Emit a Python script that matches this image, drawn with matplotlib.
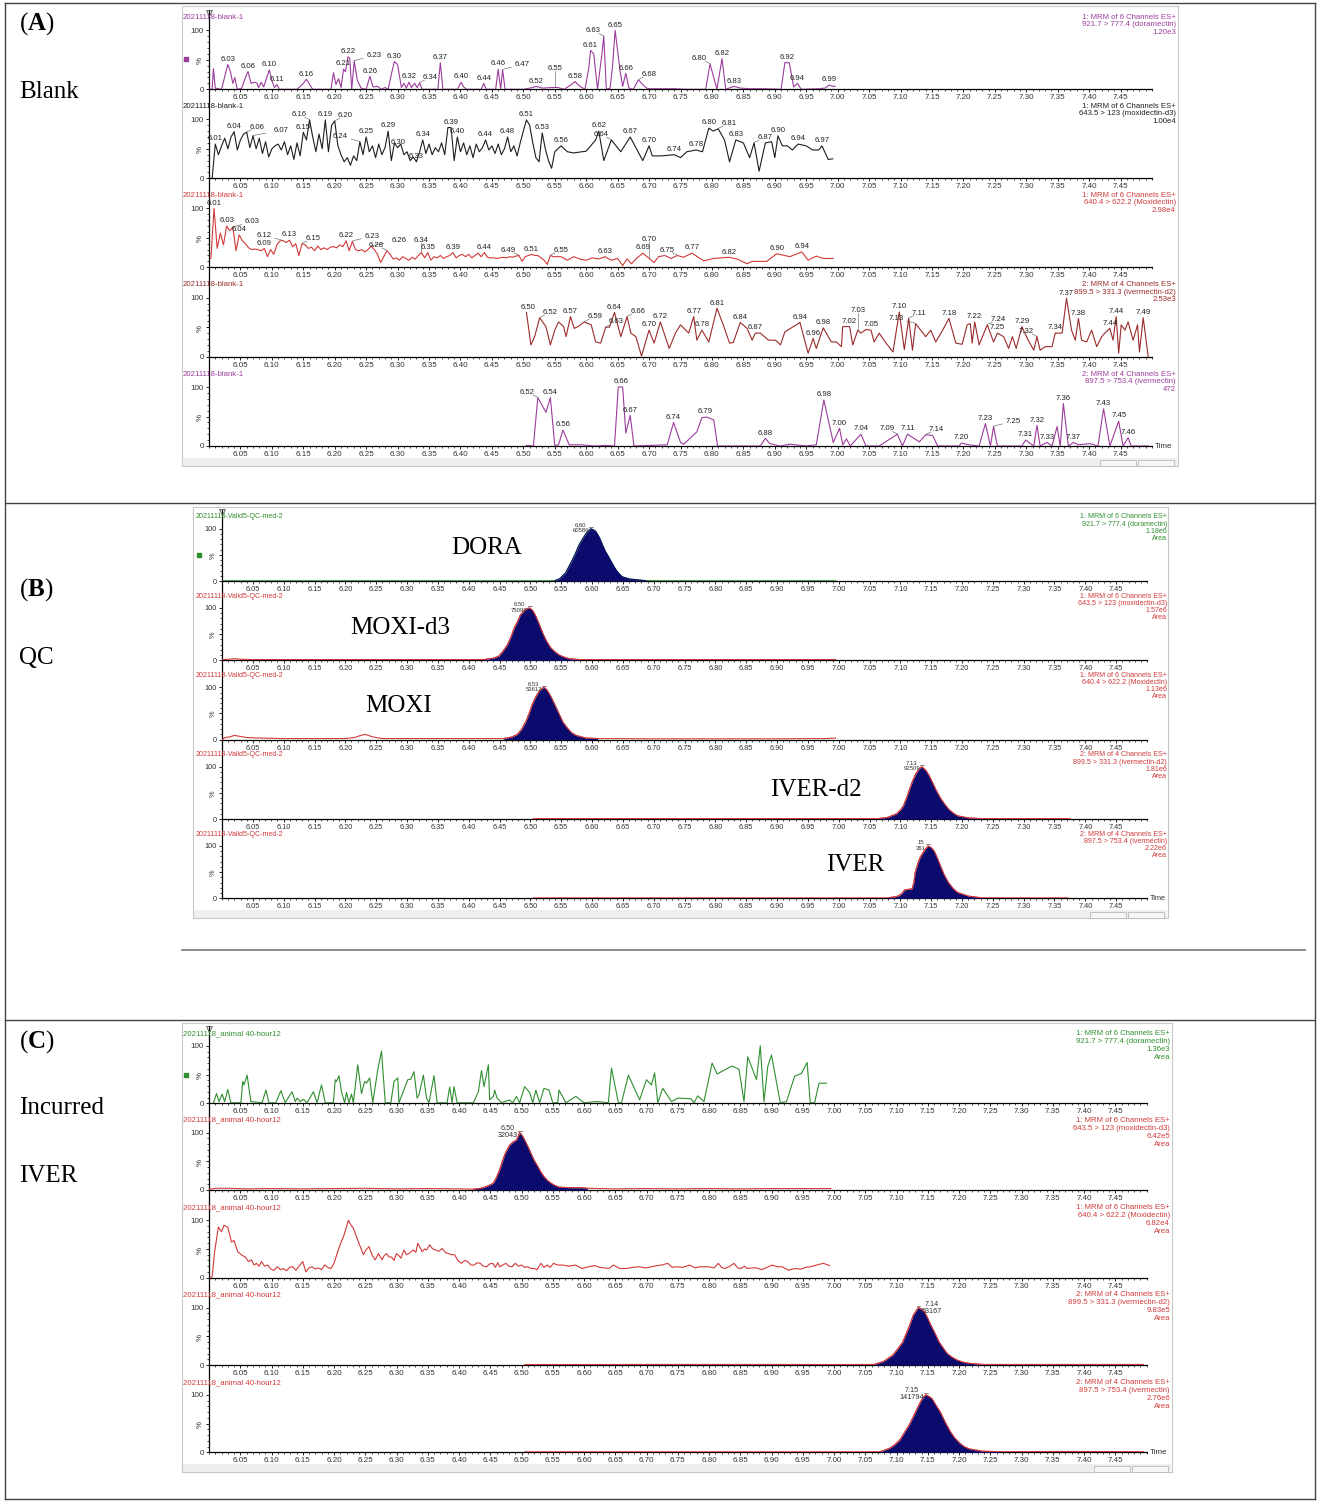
import numpy as np
import matplotlib.pyplot as plt
from matplotlib.ticker import MultipleLocator, FixedLocator, FormatStrFormatter
from matplotlib.patches import Rectangle
from matplotlib.lines import Line2D

plt.rcParams['font.family'] = ['Liberation Sans', 'DejaVu Sans']
plt.rcParams['mathtext.fontset'] = 'custom'
plt.rcParams['mathtext.rm'] = 'Liberation Serif'
plt.rcParams['mathtext.bf'] = 'Liberation Serif:bold'

# ---------------- data (time in min, intensity in %) ----------------
# (A) blank
a1 = np.array([(6.000, 0), (6.005, 0), (6.007, 35), (6.010, 2), (6.020, 0), (6.027, 30), (6.030, 42), (6.034, 30),
               (6.038, 10), (6.041, 20), (6.045, 0), (6.052, 2), (6.058, 20), (6.062, 30), (6.067, 10), (6.072, 12),
               (6.076, 11), (6.079, 3), (6.083, 12), (6.087, 4), (6.092, 20), (6.096, 33), (6.100, 15), (6.104, 3),
               (6.108, 8), (6.112, 0), (6.140, 0), (6.150, 10), (6.155, 17), (6.160, 8), (6.165, 0), (6.194, 0),
               (6.198, 28), (6.202, 8), (6.206, 18), (6.210, 3), (6.214, 34), (6.217, 30), (6.221, 55), (6.224, 52),
               (6.227, 0), (6.231, 48), (6.236, 15), (6.242, 2), (6.250, 0), (6.256, 22), (6.261, 4), (6.268, 5),
               (6.274, 0), (6.280, 3), (6.285, 0), (6.291, 30), (6.295, 47), (6.300, 42), (6.306, 3), (6.310, 10),
               (6.314, 2), (6.318, 12), (6.322, 3), (6.327, 10), (6.331, 3), (6.335, 11), (6.339, 0), (6.364, 0),
               (6.368, 45), (6.372, 0), (6.395, 0), (6.401, 12), (6.405, 4), (6.410, 0), (6.433, 0), (6.437, 10),
               (6.441, 0), (6.456, 0), (6.460, 34), (6.464, 0), (6.467, 33), (6.471, 0), (6.500, 0), (6.515, 3),
               (6.520, 5), (6.530, 2), (6.545, 3), (6.555, 3), (6.565, 0), (6.575, 7), (6.582, 13), (6.590, 5),
               (6.598, 0), (6.604, 35), (6.607, 66), (6.612, 60), (6.618, 0), (6.625, 60), (6.628, 90), (6.632, 0),
               (6.638, 2), (6.642, 40), (6.646, 100), (6.650, 65), (6.654, 30), (6.658, 5), (6.663, 27), (6.668, 2),
               (6.675, 0), (6.683, 16), (6.690, 8), (6.696, 2), (6.700, 1), (6.720, 1), (6.740, 1), (6.760, 0),
               (6.790, 0), (6.797, 43), (6.808, 0), (6.816, 52), (6.822, 0), (6.830, 3), (6.835, 5), (6.845, 2),
               (6.860, 1), (6.875, 1), (6.885, 1), (6.910, 0), (6.916, 45), (6.923, 45), (6.930, 4), (6.936, 10),
               (6.942, 0), (6.970, 1), (6.980, 2), (6.986, 7), (6.993, 5), (6.996, 5)])
a1_peaks = [(6.030, '6.03'), (6.062, '6.06'), (6.096, '6.10'), (6.108, '6.11'), (6.155, '6.16'), (6.214, '6.21'),
            (6.221, '6.22'), (6.231, '6.23'), (6.256, '6.26'), (6.295, '6.30'), (6.318, '6.32'), (6.335, '6.34'),
            (6.368, '6.37'), (6.401, '6.40'), (6.437, '6.44'), (6.460, '6.46'), (6.467, '6.47'), (6.520, '6.52'),
            (6.550, '6.55'), (6.582, '6.58'), (6.607, '6.61'), (6.628, '6.63'), (6.646, '6.65'), (6.663, '6.66'),
            (6.683, '6.68'), (6.797, '6.80'), (6.816, '6.82'), (6.835, '6.83'), (6.920, '6.92'), (6.936, '6.94'),
            (6.986, '6.99')]

# moxidectin-d3 blank: dense scans 6.005-6.550 then sparser points
a2_dense = [0, 58, 40, 55, 68, 50, 70, 79, 48, 65, 75, 78, 52, 72, 50, 68, 42, 62, 36, 50,
            55, 58, 48, 62, 40, 55, 32, 60, 38, 78, 65, 99, 70, 45, 75, 50, 99, 45, 90, 97,
            55, 40, 28, 35, 22, 38, 30, 62, 40, 70, 45, 55, 35, 58, 40, 52, 80, 30, 60, 52,
            58, 40, 45, 30, 36, 28, 45, 65, 42, 58, 40, 52, 45, 60, 40, 86, 86, 30, 70, 45,
            60, 40, 55, 35, 58, 45, 52, 65, 48, 55, 42, 58, 40, 50, 70, 45, 55, 38, 60, 80,
            99, 90, 60, 35, 28, 77, 50, 30, 17, 45]
a2_sparse = np.array([(6.560, 55), (6.570, 45), (6.580, 43), (6.600, 46), (6.615, 65), (6.620, 80), (6.628, 30),
                      (6.640, 65), (6.655, 45), (6.670, 70), (6.680, 50), (6.690, 30), (6.700, 55), (6.705, 38),
                      (6.720, 38), (6.740, 40), (6.750, 35), (6.760, 45), (6.775, 48), (6.785, 45), (6.795, 85),
                      (6.802, 80), (6.810, 84), (6.820, 65), (6.828, 28), (6.838, 65), (6.850, 60), (6.860, 35),
                      (6.867, 60), (6.875, 12), (6.885, 60), (6.895, 62), (6.900, 35), (6.905, 72), (6.912, 55),
                      (6.920, 55), (6.928, 48), (6.937, 58), (6.950, 55), (6.960, 48), (6.970, 48), (6.975, 55),
                      (6.985, 32), (6.992, 33)])
a2_peaks = [(6.010, '6.01'), (6.040, '6.04'), (6.060, '6.06'), (6.070, '6.07'), (6.150, '6.15'), (6.160, '6.16'),
            (6.185, '6.19'), (6.200, '6.20'), (6.240, '6.24'), (6.250, '6.25'), (6.285, '6.29'), (6.300, '6.30'),
            (6.330, '6.33'), (6.340, '6.34'), (6.385, '6.39'), (6.395, '6.40'), (6.440, '6.44'), (6.475, '6.48'),
            (6.505, '6.51'), (6.530, '6.53'), (6.560, '6.56'), (6.620, '6.62'), (6.640, '6.64'), (6.670, '6.67'),
            (6.700, '6.70'), (6.740, '6.74'), (6.775, '6.78'), (6.795, '6.80'), (6.810, '6.81'), (6.838, '6.83'),
            (6.867, '6.87'), (6.905, '6.90'), (6.937, '6.94'), (6.975, '6.97')]

# moxidectin blank: dense scans 6.003-6.548 then sparser points
a3_dense = [15, 100, 32, 58, 38, 70, 62, 68, 28, 55, 45, 40, 33, 30, 31, 30, 28, 32, 18, 30,
            22, 38, 45, 45, 42, 46, 35, 40, 20, 40, 38, 32, 34, 28, 36, 30, 33, 30, 34, 35,
            33, 38, 35, 45, 28, 44, 30, 28, 30, 26, 30, 36, 30, 22, 8, 18, 28, 22, 14, 16,
            12, 18, 15, 12, 17, 14, 20, 25, 16, 25, 12, 18, 16, 20, 15, 18, 20, 25, 16, 20,
            22, 18, 22, 16, 20, 24, 18, 25, 17, 16, 16, 15, 16, 17, 16, 18, 17, 19, 20, 10,
            18, 20, 22, 20, 20, 16, 12, 5, 20, 18]
a3_sparse = np.array([(6.560, 18), (6.570, 12), (6.580, 18), (6.590, 14), (6.600, 12), (6.610, 16), (6.620, 14),
                      (6.630, 18), (6.640, 12), (6.650, 15), (6.658, 3), (6.665, 14), (6.672, 6), (6.680, 15),
                      (6.690, 24), (6.700, 15), (6.708, 8), (6.715, 18), (6.725, 20), (6.735, 15), (6.745, 20),
                      (6.755, 17), (6.768, 24), (6.787, 11), (6.803, 15), (6.827, 17), (6.840, 14), (6.856, 6),
                      (6.864, 10), (6.887, 10), (6.903, 23), (6.924, 18), (6.943, 26), (6.953, 12), (6.966, 19),
                      (6.977, 15), (6.993, 15)])
a3_peaks = [(6.008, '6.01'), (6.028, '6.03'), (6.038, '6.03'), (6.048, '6.04'), (6.088, '6.09'), (6.118, '6.12'),
            (6.128, '6.13'), (6.148, '6.15'), (6.218, '6.22'), (6.228, '6.23'), (6.258, '6.26'), (6.283, '6.28'),
            (6.338, '6.34'), (6.348, '6.35'), (6.388, '6.39'), (6.438, '6.44'), (6.493, '6.49'), (6.513, '6.51'),
            (6.543, '6.55'), (6.630, '6.63'), (6.690, '6.69'), (6.700, '6.70'), (6.745, '6.75'), (6.768, '6.77'),
            (6.827, '6.82'), (6.903, '6.90'), (6.943, '6.94')]

a4 = np.array([(6.505, 75), (6.512, 20), (6.518, 34), (6.526, 66), (6.536, 51), (6.543, 20), (6.550, 45), (6.556, 59),
               (6.564, 51), (6.568, 34), (6.575, 68), (6.581, 48), (6.587, 51), (6.597, 59), (6.608, 54), (6.615, 25),
               (6.623, 23), (6.631, 50), (6.637, 50), (6.645, 75), (6.655, 34), (6.665, 68), (6.671, 40), (6.679, 34),
               (6.688, 1), (6.700, 45), (6.708, 23), (6.718, 59), (6.732, 14), (6.742, 40), (6.750, 54), (6.763, 40),
               (6.771, 68), (6.776, 28), (6.784, 45), (6.795, 25), (6.808, 82), (6.819, 51), (6.828, 23), (6.834, 24),
               (6.845, 58), (6.856, 48), (6.864, 28), (6.869, 40), (6.877, 40), (6.890, 28), (6.901, 28), (6.909, 20),
               (6.916, 42), (6.940, 58), (6.953, 6), (6.961, 31), (6.966, 14), (6.977, 49), (6.990, 25), (6.998, 25),
               (7.006, 17), (7.008, 51), (7.019, 51), (7.024, 20), (7.032, 45), (7.037, 40), (7.045, 46), (7.053, 45),
               (7.058, 25), (7.066, 40), (7.077, 23), (7.088, 8), (7.098, 76), (7.106, 12), (7.113, 65), (7.119, 11),
               (7.124, 56), (7.140, 34), (7.148, 45), (7.156, 25), (7.167, 45), (7.177, 65), (7.188, 23), (7.198, 21),
               (7.206, 54), (7.211, 56), (7.214, 23), (7.218, 59), (7.225, 20), (7.238, 54), (7.248, 25), (7.254, 40),
               (7.264, 34), (7.272, 14), (7.278, 34), (7.284, 14), (7.293, 51), (7.303, 28), (7.312, 11), (7.317, 34),
               (7.322, 11), (7.330, 17), (7.341, 17), (7.346, 40), (7.357, 40), (7.364, 99), (7.372, 45), (7.378, 28),
               (7.383, 65), (7.388, 28), (7.396, 25), (7.404, 45), (7.412, 17), (7.420, 34), (7.425, 40), (7.433, 48),
               (7.438, 28), (7.443, 68), (7.447, 6), (7.451, 54), (7.457, 45), (7.462, 59), (7.470, 28), (7.477, 54),
               (7.480, 8), (7.486, 66), (7.494, 0)])
a4_peaks = [(6.507, '6.50'), (6.526, '6.52'), (6.575, '6.57'), (6.597, '6.59'), (6.631, '6.63'), (6.645, '6.64'),
            (6.665, '6.66'), (6.700, '6.70'), (6.718, '6.72'), (6.771, '6.77'), (6.784, '6.78'), (6.808, '6.81'),
            (6.845, '6.84'), (6.869, '6.87'), (6.940, '6.94'), (6.961, '6.96'), (6.977, '6.98'), (7.019, '7.02'),
            (7.032, '7.03'), (7.053, '7.05'), (7.098, '7.10'), (7.113, '7.11'), (7.124, '7.13'), (7.177, '7.18'),
            (7.218, '7.22'), (7.238, '7.24'), (7.254, '7.25'), (7.293, '7.29'), (7.317, '7.32'), (7.346, '7.34'),
            (7.364, '7.37'), (7.383, '7.38'), (7.433, '7.44'), (7.443, '7.44'), (7.486, '7.49')]

a5 = np.array([(6.505, 1), (6.516, 0), (6.523, 82), (6.536, 57), (6.543, 82), (6.550, 1), (6.556, 2), (6.563, 27),
               (6.573, 2), (6.592, 2), (6.613, 0), (6.631, 1), (6.645, 0), (6.651, 100), (6.658, 100), (6.663, 22),
               (6.670, 52), (6.676, 0), (6.729, 2), (6.739, 40), (6.750, 6), (6.755, 3), (6.776, 24), (6.784, 48),
               (6.792, 49), (6.803, 44), (6.809, 0), (6.877, 0), (6.885, 13), (6.892, 4), (6.908, 0), (6.924, 3),
               (6.950, 0), (6.966, 2), (6.978, 78), (6.993, 6), (7.003, 30), (7.008, 2), (7.014, 12), (7.020, 0),
               (7.037, 20), (7.045, 0), (7.066, 0), (7.095, 20), (7.103, 0), (7.111, 20), (7.130, 7), (7.140, 19),
               (7.151, 18), (7.159, 0), (7.193, 0), (7.197, 5), (7.209, 2), (7.225, 0), (7.235, 38), (7.243, 0),
               (7.248, 33), (7.254, 0), (7.293, 0), (7.299, 10), (7.312, 0), (7.317, 35), (7.322, 0), (7.333, 6),
               (7.341, 0), (7.349, 33), (7.354, 0), (7.359, 72), (7.367, 0), (7.375, 6), (7.383, 2), (7.401, 4),
               (7.414, 0), (7.423, 63), (7.433, 0), (7.447, 42), (7.454, 0), (7.462, 14), (7.467, 0), (7.494, 0)])
a5_peaks = [(6.523, '6.52'), (6.543, '6.54'), (6.563, '6.56'), (6.655, '6.66'), (6.670, '6.67'), (6.739, '6.74'),
            (6.790, '6.79'), (6.885, '6.88'), (6.978, '6.98'), (7.003, '7.00'), (7.037, '7.04'), (7.095, '7.09'),
            (7.111, '7.11'), (7.140, '7.14'), (7.197, '7.20'), (7.235, '7.23'), (7.248, '7.25'), (7.299, '7.31'),
            (7.317, '7.32'), (7.333, '7.33'), (7.359, '7.36'), (7.375, '7.37'), (7.423, '7.43'), (7.447, '7.45'),
            (7.462, '7.46')]

# (B) QC
b1 = np.array([(6.000, 0.5), (6.100, 0.5), (6.200, 0.5), (6.300, 0.5), (6.400, 0.5), (6.500, 0.5), (6.530, 0.5),
               (6.540, 1), (6.547, 4), (6.557, 15), (6.568, 40), (6.574, 55), (6.579, 69), (6.585, 81), (6.590, 90),
               (6.594, 96), (6.598, 100), (6.602, 98), (6.606, 95), (6.612, 83), (6.617, 69), (6.622, 56), (6.628, 44),
               (6.634, 31), (6.639, 21), (6.644, 14), (6.649, 8), (6.660, 4), (6.676, 2), (6.687, 0.8), (6.720, 0.6),
               (6.800, 0.5), (6.900, 0.5), (6.995, 0.5)])
b2 = np.array([(6.000, 1), (6.010, 2), (6.020, 3), (6.030, 2), (6.050, 1.5), (6.100, 1.5), (6.200, 1.5), (6.300, 1.5),
               (6.400, 1.5), (6.425, 1.5), (6.440, 4), (6.449, 8), (6.456, 18), (6.463, 30), (6.469, 46), (6.474, 62),
               (6.480, 76), (6.484, 87), (6.490, 95), (6.495, 99), (6.499, 100), (6.504, 95), (6.509, 84), (6.514, 70),
               (6.520, 52), (6.526, 37), (6.533, 24), (6.540, 16), (6.547, 10), (6.555, 6), (6.563, 3), (6.579, 1.5),
               (6.600, 1.5), (6.700, 1.5), (6.800, 1.5), (6.900, 1.5), (6.995, 1.5)])
b3 = np.array([(6.000, 0), (6.005, 4), (6.012, 5), (6.020, 8), (6.030, 6), (6.040, 4), (6.060, 3), (6.100, 2),
               (6.150, 2), (6.200, 2), (6.215, 4), (6.225, 8), (6.232, 10), (6.245, 5), (6.260, 2), (6.300, 2),
               (6.400, 2), (6.457, 2), (6.470, 5), (6.479, 10), (6.486, 20), (6.493, 35), (6.498, 50), (6.503, 67),
               (6.509, 82), (6.514, 92), (6.518, 97), (6.522, 100), (6.527, 95), (6.533, 83), (6.540, 66), (6.547, 48),
               (6.553, 33), (6.560, 22), (6.567, 13), (6.574, 8), (6.590, 3), (6.609, 2), (6.700, 1.5), (6.800, 1.5),
               (6.900, 1.5), (6.980, 2), (6.995, 3)])
b4 = np.array([(6.505, 0.8), (6.600, 0.8), (6.700, 0.8), (6.800, 0.8), (6.900, 0.8), (7.000, 0.8), (7.064, 0.8),
               (7.079, 3), (7.094, 10), (7.100, 17), (7.105, 25), (7.110, 40), (7.115, 57), (7.120, 73), (7.125, 86),
               (7.130, 95), (7.135, 100), (7.142, 92), (7.147, 82), (7.152, 70), (7.158, 55), (7.165, 40),
               (7.172, 28), (7.179, 18), (7.186, 11), (7.193, 6), (7.211, 2), (7.232, 0.8), (7.300, 0.8),
               (7.375, 0.8)])
b5 = np.array([(6.505, 0.8), (6.600, 0.8), (6.700, 0.8), (6.800, 0.8), (6.900, 0.8), (7.000, 0.8), (7.079, 0.8),
               (7.092, 3), (7.098, 5), (7.103, 10), (7.107, 16), (7.112, 17), (7.119, 18), (7.122, 30), (7.124, 49),
               (7.128, 65), (7.132, 78), (7.135, 84), (7.140, 93), (7.145, 100), (7.150, 97), (7.155, 90),
               (7.160, 77), (7.165, 62), (7.171, 45), (7.178, 30), (7.186, 18), (7.193, 11), (7.211, 4), (7.232, 1),
               (7.300, 0.8), (7.372, 0.8)])
b_windows = [(6.538, 6.687), (6.425, 6.579), (6.457, 6.609), (7.064, 7.232), (7.079, 7.232)]
b_peaks = [(6.598, '6.60', '60586', 'left'), (6.499, '6.50', '75099', 'left'), (6.522, '6.53', '53612', 'left'),
           (7.135, '7.13', '92509', 'left'), (7.145, '15', '361', 'left')]

# (C) incurred sample
c1 = np.array([(6.007, 0), (6.012, 17), (6.016, 3), (6.021, 16), (6.025, 3), (6.030, 24), (6.035, 1), (6.051, 1),
               (6.054, 38), (6.056, 32), (6.061, 49), (6.067, 3), (6.085, 1), (6.091, 23), (6.096, 1), (6.107, 1),
               (6.115, 22), (6.122, 1), (6.128, 12), (6.133, 20), (6.138, 3), (6.141, 9), (6.146, 3), (6.151, 7),
               (6.157, 1), (6.167, 20), (6.173, 1), (6.180, 32), (6.186, 1), (6.199, 1), (6.202, 41), (6.204, 38),
               (6.208, 48), (6.212, 20), (6.217, 1), (6.220, 19), (6.224, 1), (6.228, 16), (6.231, 1), (6.238, 67),
               (6.244, 17), (6.249, 38), (6.252, 35), (6.257, 44), (6.262, 1), (6.270, 58), (6.276, 91), (6.282, 1),
               (6.291, 1), (6.296, 38), (6.302, 44), (6.304, 1), (6.318, 41), (6.323, 42), (6.328, 55), (6.333, 9),
               (6.336, 15), (6.343, 49), (6.348, 9), (6.352, 1), (6.360, 48), (6.365, 1), (6.381, 1), (6.385, 28),
               (6.389, 1), (6.392, 29), (6.397, 1), (6.423, 1), (6.431, 20), (6.436, 57), (6.440, 29), (6.447, 67),
               (6.449, 6), (6.455, 12), (6.457, 23), (6.461, 9), (6.468, 1), (6.481, 6), (6.486, 1), (6.492, 12),
               (6.497, 1), (6.505, 29), (6.513, 19), (6.518, 1), (6.523, 23), (6.529, 1), (6.536, 26), (6.544, 23),
               (6.550, 1), (6.558, 1), (6.560, 23), (6.571, 1), (6.587, 12), (6.600, 1), (6.621, 3), (6.639, 1),
               (6.644, 61), (6.655, 1), (6.660, 1), (6.671, 49), (6.689, 6), (6.700, 41), (6.708, 32), (6.713, 53),
               (6.718, 1), (6.726, 26), (6.740, 3), (6.750, 9), (6.771, 8), (6.776, 1), (6.782, 13), (6.792, 3),
               (6.805, 70), (6.813, 51), (6.837, 65), (6.848, 59), (6.856, 3), (6.862, 81), (6.876, 41), (6.882, 100),
               (6.888, 3), (6.894, 64), (6.900, 84), (6.914, 1), (6.924, 3), (6.937, 47), (6.948, 52), (6.957, 71),
               (6.962, 1), (6.969, 1), (6.976, 35), (6.988, 35)])
c2 = np.array([(6.000, 1), (6.010, 3), (6.030, 3), (6.060, 2), (6.100, 2.5), (6.150, 2), (6.200, 2.5), (6.250, 3),
               (6.300, 2), (6.350, 2.5), (6.400, 2), (6.423, 1.5), (6.435, 3), (6.444, 6), (6.450, 9), (6.455, 12),
               (6.460, 22), (6.465, 35), (6.469, 48), (6.473, 61), (6.477, 70), (6.481, 78), (6.486, 83), (6.489, 85),
               (6.492, 87), (6.495, 94), (6.497, 100), (6.501, 95), (6.505, 87), (6.510, 76), (6.515, 64), (6.520, 52),
               (6.526, 41), (6.531, 31), (6.536, 23), (6.542, 16), (6.547, 12), (6.553, 8), (6.560, 5), (6.576, 4),
               (6.597, 4), (6.605, 3), (6.650, 2), (6.700, 2.5), (6.750, 2), (6.800, 2.5), (6.850, 2), (6.900, 2.5),
               (6.950, 2.5), (6.995, 2.5)])
c3 = np.array([(6.002, 0), (6.005, 2), (6.009, 45), (6.015, 88), (6.020, 80), (6.024, 91), (6.030, 88), (6.036, 62),
               (6.040, 65), (6.046, 45), (6.053, 39), (6.058, 36), (6.063, 28), (6.068, 31), (6.072, 22), (6.076, 25),
               (6.080, 20), (6.084, 28), (6.089, 20), (6.094, 22), (6.099, 15), (6.104, 13), (6.109, 19), (6.114, 14),
               (6.119, 16), (6.124, 12), (6.129, 18), (6.134, 19), (6.139, 13), (6.144, 20), (6.150, 28), (6.155, 10),
               (6.160, 17), (6.165, 19), (6.170, 15), (6.175, 17), (6.180, 14), (6.185, 22), (6.190, 18), (6.195, 16),
               (6.200, 25), (6.205, 42), (6.210, 58), (6.216, 74), (6.223, 100), (6.227, 92), (6.231, 86), (6.236, 71),
               (6.243, 51), (6.247, 40), (6.251, 48), (6.256, 54), (6.261, 39), (6.266, 31), (6.271, 42), (6.277, 31),
               (6.280, 38), (6.284, 42), (6.288, 36), (6.292, 36), (6.296, 30), (6.300, 42), (6.304, 38), (6.307, 34),
               (6.312, 48), (6.316, 40), (6.320, 42), (6.324, 46), (6.327, 48), (6.331, 44), (6.334, 60), (6.338, 52),
               (6.341, 45), (6.345, 50), (6.348, 48), (6.353, 57), (6.358, 50), (6.363, 48), (6.368, 46), (6.373, 51),
               (6.378, 44), (6.383, 42), (6.388, 40), (6.393, 40), (6.398, 30), (6.404, 25), (6.409, 30), (6.414, 28),
               (6.419, 22), (6.424, 22), (6.429, 26), (6.434, 25), (6.439, 20), (6.444, 19), (6.449, 24), (6.454, 25),
               (6.458, 18), (6.462, 26), (6.465, 19), (6.470, 22), (6.475, 25), (6.480, 20), (6.485, 19), (6.490, 25),
               (6.495, 20), (6.500, 22), (6.505, 18), (6.510, 19), (6.515, 16), (6.520, 16), (6.525, 14), (6.531, 25),
               (6.536, 18), (6.541, 22), (6.546, 18), (6.551, 25), (6.558, 22), (6.566, 22), (6.575, 20), (6.586, 22),
               (6.597, 16), (6.607, 19), (6.617, 21), (6.625, 18), (6.632, 17), (6.640, 16), (6.647, 22), (6.657, 16),
               (6.668, 16), (6.678, 18), (6.688, 19), (6.698, 17), (6.708, 19), (6.716, 21), (6.724, 22), (6.734, 25),
               (6.741, 18), (6.749, 19), (6.758, 18), (6.769, 22), (6.778, 17), (6.785, 19), (6.793, 19), (6.800, 19),
               (6.808, 17), (6.815, 25), (6.820, 18), (6.825, 16), (6.832, 19), (6.840, 25), (6.846, 17), (6.851, 16),
               (6.857, 20), (6.861, 16), (6.868, 17), (6.876, 17), (6.884, 14), (6.891, 17), (6.901, 22), (6.909, 19),
               (6.917, 19), (6.922, 16), (6.927, 13), (6.937, 16), (6.947, 15), (6.955, 18), (6.962, 19), (6.972, 22),
               (6.983, 25), (6.993, 21)])
c4 = np.array([(6.505, 0.8), (6.600, 0.8), (6.700, 1), (6.800, 1), (6.900, 1), (7.000, 0.8), (7.064, 1), (7.079, 6),
               (7.094, 17), (7.102, 28), (7.110, 40), (7.115, 53), (7.120, 66), (7.127, 87), (7.135, 100), (7.140, 97),
               (7.145, 92), (7.150, 81), (7.155, 69), (7.162, 54), (7.168, 40), (7.175, 29), (7.181, 20), (7.188, 14),
               (7.196, 9), (7.206, 5), (7.216, 3), (7.237, 1), (7.300, 1), (7.400, 1), (7.495, 1)])
c5 = np.array([(6.505, 0.8), (6.600, 0.8), (6.700, 0.8), (6.800, 0.8), (6.900, 0.8), (7.000, 0.8), (7.074, 1),
               (7.089, 7), (7.097, 13), (7.105, 21), (7.112, 33), (7.120, 47), (7.127, 62), (7.133, 76), (7.138, 87),
               (7.143, 96), (7.147, 100), (7.152, 97), (7.157, 93), (7.163, 82), (7.170, 70), (7.178, 52), (7.186, 36),
               (7.193, 25), (7.201, 16), (7.208, 10), (7.216, 6), (7.237, 2), (7.268, 1), (7.350, 1.5), (7.400, 1.5),
               (7.495, 1)])
c_windows = [None, (6.423, 6.605), None, (7.064, 7.237), (7.074, 7.268)]
c_peaks = [None, (6.497, '6.50', '32043', 'left'), None, (7.135, '7.14', '53167', 'right'),
           (7.147, '7.15', '141794', 'left')]

a_info = [['1: MRM of 6 Channels ES+', '921.7 > 777.4 (doramectin)', '1.20e3'],
          ['1: MRM of 6 Channels ES+', '643.5 > 123 (moxidectin-d3)', '1.00e4'],
          ['1: MRM of 6 Channels ES+', '640.4 > 622.2 (Moxidectin)', '2.98e4'],
          ['2: MRM of 4 Channels ES+', '899.5 > 331.3 (ivermectin-d2)', '2.53e3'],
          ['2: MRM of 4 Channels ES+', '897.5 > 753.4 (ivermectin)', '472']]
b_info = [['1: MRM of 6 Channels ES+', '921.7 > 777.4 (doramectin)', '1.18e6', 'Area'],
          ['1: MRM of 6 Channels ES+', '643.5 > 123 (moxidectin-d3)', '1.57e6', 'Area'],
          ['1: MRM of 6 Channels ES+', '640.4 > 622.2 (Moxidectin)', '1.13e6', 'Area'],
          ['2: MRM of 4 Channels ES+', '899.5 > 331.3 (ivermectin-d2)', '1.81e6', 'Area'],
          ['2: MRM of 4 Channels ES+', '897.5 > 753.4 (ivermectin)', '2.22e6', 'Area']]
c_info = [['1: MRM of 6 Channels ES+', '921.7 > 777.4 (doramectin)', '1.36e3', 'Area'],
          ['1: MRM of 6 Channels ES+', '643.5 > 123 (moxidectin-d3)', '6.42e5', 'Area'],
          ['1: MRM of 6 Channels ES+', '640.4 > 622.2 (Moxidectin)', '6.82e4', 'Area'],
          ['2: MRM of 4 Channels ES+', '899.5 > 331.3 (ivermectin-d2)', '9.83e5', 'Area'],
          ['2: MRM of 4 Channels ES+', '897.5 > 753.4 (ivermectin)', '2.76e6', 'Area']]
b_names = ['DORA', 'MOXI-d3', 'MOXI', 'IVER-d2', 'IVER']

# ---------------- drawing ----------------
W, H = 1317, 1501
fig = plt.figure(figsize=(W / 100, H / 100), dpi=100)

PURPLE = '#9c3c9c'
BLACK = '#1e1e1e'
RED = '#d23a3a'
DRED = '#9b2b2b'
GREEN = '#2f8f2f'
NAVY = '#0b0b6e'

xticks = np.round(np.arange(6.05, 7.451, 0.05), 2)


def fpos(x, y):
    return x / W, 1 - y / H


def line(x0, y0, x1, y1, color='#444444', lw=1.0):
    fig.add_artist(Line2D([x0 / W, x1 / W], [1 - y0 / H, 1 - y1 / H], transform=fig.transFigure,
                          color=color, lw=lw))


def rect(x0, y0, x1, y1, fc='none', ec='#c8c8c8', lw=0.8):
    fig.add_artist(Rectangle(fpos(x0, y1), (x1 - x0) / W, (y1 - y0) / H, transform=fig.transFigure,
                             facecolor=fc, edgecolor=ec, lw=lw))


def chrom_axes(x0, x1, zero, top, h100, fs):
    ax = fig.add_axes([x0 / W, 1 - zero / H, (x1 - x0) / W, (zero - top) / H])
    ax.patch.set_visible(False)
    ax.set_xlim(6.0, 7.5)
    ax.set_ylim(0, 100 * (zero - top) / h100)
    ax.spines[['top', 'right']].set_visible(False)
    ax.spines[['left', 'bottom']].set_linewidth(0.9)
    ax.xaxis.set_major_locator(FixedLocator(xticks))
    ax.xaxis.set_major_formatter(FormatStrFormatter('%.2f'))
    ax.xaxis.set_minor_locator(MultipleLocator(0.01))
    ax.yaxis.set_major_locator(FixedLocator([0, 50, 100]))
    ax.yaxis.set_minor_locator(FixedLocator(range(10, 100, 10)))
    labs = ax.set_yticklabels(['0', '%', '100'])
    labs[1].set_rotation(90)
    labs[1].set_fontsize(fs - 1.5)
    ax.tick_params(which='major', length=2.4, width=0.6, pad=1.2, labelsize=fs, labelcolor='#333333')
    ax.tick_params(which='minor', length=1.3, width=0.5)
    return ax


def label_peaks(ax, t, v, peaks, fs):
    # retention-time labels, tallest first, nudged when they would collide
    xw, yh = 0.031, 12
    items = []
    for pt, txt in peaks:
        near = np.abs(t - pt) <= 0.004
        top = v[near].max() if near.any() else np.interp(pt, t, v)
        items.append((top, pt, txt))
    boxes = []
    moves = [(0, 0), (0.017, 0), (-0.017, 0), (0.031, 0), (-0.031, 0), (0, 12), (0.017, 12), (-0.017, 12),
             (0.045, 0), (-0.045, 0), (0, 24)]
    for top, pt, txt in sorted(items, reverse=True):
        dx, dy = 0.0, 0.0
        for mx, my in moves:
            y = top + 3 + my
            a, b = pt + mx - xw / 2, pt + mx + xw / 2
            if all(b <= l or a >= r or y + yh <= lo or y >= hi for l, r, lo, hi in boxes):
                dx, dy = mx, my
                break
        y = top + 3 + dy
        boxes.append((pt + dx - xw / 2, pt + dx + xw / 2, y, y + yh))
        ax.text(pt + dx, y, txt, ha='center', va='bottom', fontsize=fs, color='#222222', zorder=5)
        if dx or dy:
            ax.plot([pt, pt + dx * 0.45], [top + 0.5, y + 1.5], color='#555555', lw=0.4, zorder=5)


def group(traces, colors, titles, infos, x0, x1, zeros, first_top, h100, title_x, right_x,
          title_dy, step, fs, info_fs, windows=None, area_peaks=None, area_fs=5):
    axes = []
    for i, (tv, col, title, info) in enumerate(zip(traces, colors, titles, infos)):
        zero = zeros[i]
        top = first_top if i == 0 else zeros[i - 1]
        ax = chrom_axes(x0, x1, zero, top, h100, fs)
        t, v = tv[:, 0], tv[:, 1]
        ax.plot(t, v, color=col, lw=0.8, zorder=3)
        if windows is not None and windows[i] is not None:
            s, e = windows[i]
            inside = (t >= s) & (t <= e)
            ax.fill_between(t, v, where=inside, color=NAVY, lw=0, zorder=4)
            edge = NAVY if col == GREEN else col
            ax.plot(t[inside], v[inside], color=edge, lw=0.7, zorder=5)
        if area_peaks is not None and area_peaks[i] is not None:
            pt, rt, area, side = area_peaks[i]
            top_v = np.interp(pt, t, v)
            ax.plot([pt - 0.003, pt + 0.003], [top_v + 3, top_v + 3], color='#555555', lw=0.5, zorder=7)
            if side == 'left':
                ax.text(pt - 0.003, top_v + 1, rt + '\n' + area, ha='right', va='center', fontsize=area_fs,
                        color='#333333', linespacing=1.05, multialignment='center', zorder=7)
            else:
                ax.text(pt + 0.006, top_v - 1, rt + '\n' + area, ha='left', va='center', fontsize=area_fs,
                        color='#333333', linespacing=1.05, multialignment='center', zorder=7)
        fig.text(*fpos(title_x, zero - title_dy), title, ha='left', va='center', fontsize=info_fs, color=col)
        for k, txt in enumerate(info):
            fig.text(*fpos(right_x, zero - title_dy + k * step), txt, ha='right', va='center',
                     fontsize=info_fs, color=col)
        axes.append(ax)
    fig.text(*fpos(x1 + 3, zeros[-1]), 'Time', ha='left', va='center', fontsize=fs, color='#333333')
    return axes


# ---- (A) blank ----
a2 = np.vstack([np.column_stack([np.linspace(6.005, 6.550, len(a2_dense)), a2_dense]), a2_sparse])
a3 = np.vstack([np.column_stack([np.linspace(6.003, 6.548, len(a3_dense)), a3_dense]), a3_sparse])
a_traces = [a1, a2, a3, a4, a5]
a_colors = [PURPLE, BLACK, RED, DRED, PURPLE]
a_axes = group(a_traces, a_colors, ['20211118-blank-1'] * 5, a_info, 209, 1152,
               [89.3, 178.3, 267.3, 356.7, 446.0], 10, 59, 183, 1176, 72, 7.6, 5.8, 5.6)
for ax, tv, pk in zip(a_axes, a_traces, [a1_peaks, a2_peaks, a3_peaks, a4_peaks, a5_peaks]):
    label_peaks(ax, tv[:, 0], tv[:, 1], pk, 5.6)

# ---- (B) QC ----
group([b1, b2, b3, b4, b5], [GREEN, RED, RED, RED, RED], ['20211118-Valid5-QC-med-2'] * 5, b_info,
      222, 1147, [581, 660.3, 739.6, 819, 898.3], 510, 52.3, 196, 1167, 64, 7, 5.3, 5.1,
      windows=b_windows, area_peaks=b_peaks, area_fs=4.3)
for name, (x, y) in zip(b_names, [(487, 548), (400, 628), (399, 706), (816, 790), (855, 865)]):
    fig.text(*fpos(x, y), name, ha='center', va='center', fontsize=18, family='Liberation Serif')

# ---- (C) incurred ----
group([c1, c2, c3, c4, c5], [GREEN, RED, RED, RED, RED], ['20211118_animal 40-hour12'] * 5, c_info,
      209, 1146.5, [1103.3, 1190, 1277.7, 1365, 1452.3], 1026, 57.5, 183, 1170, 70, 8, 5.8, 5.6,
      windows=c_windows, area_peaks=c_peaks, area_fs=5.2)

# ---- frame, windows and side labels ----
line(5, 3, 1315, 3)
line(5, 503, 1315, 503)
line(5, 1020, 1315, 1020)
line(5, 1499, 1315, 1499)
line(5, 3, 5, 1499)
line(1315, 3, 1315, 1499)
line(182, 950, 1305, 950, color='#777777', lw=1.2)

for (x0, y0, x1, y1) in [(182, 6, 1178, 466), (193, 507, 1168, 918), (182, 1023, 1172, 1472)]:
    rect(x0, y0, x1, y1)
    rect(x0 + 1, y1 - 8, x1 - 1, y1, fc='#eeeeee', ec='none')
    rect(x1 - 78, y1 - 6, x1 - 42, y1, fc='#f6f6f6', ec='#bbbbbb', lw=0.6)
    rect(x1 - 40, y1 - 6, x1 - 4, y1, fc='#f6f6f6', ec='#bbbbbb', lw=0.6)

for (x, y, c) in [(186, 59, PURPLE), (199, 555, GREEN), (186, 1075, GREEN)]:
    fig.add_artist(Line2D([x / W], [1 - y / H], marker='s', ms=3, color=c, transform=fig.transFigure))
for (x, y) in [(209, 13), (222, 512), (209, 1029)]:
    fig.add_artist(Line2D([x / W], [1 - y / H], marker='v', ms=5, mfc='none', mec='#555555', mew=0.6,
                          transform=fig.transFigure))

side = [('($\\mathbf{A}$)', 24), ('Blank', 92), ('($\\mathbf{B}$)', 590), ('QC', 658),
        ('($\\mathbf{C}$)', 1042), ('Incurred', 1108), ('IVER', 1176)]
for txt, y in side:
    fig.text(*fpos(19, y), txt, ha='left', va='center', fontsize=18, family='Liberation Serif')

fig.savefig('out.png', dpi=100)
